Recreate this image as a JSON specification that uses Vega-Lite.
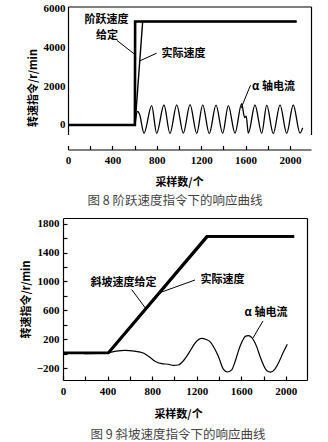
{
  "$schema": "https://vega.github.io/schema/vega-lite/v6.json",
  "background": "white",
  "padding": {"left": 20, "top": 1.5, "right": 5, "bottom": 0},
  "spacing": 9.5,
  "config": {
    "view": {"stroke": null},
    "axis": {
      "grid": false,
      "domainColor": "black",
      "domainWidth": 1.2,
      "tickColor": "black",
      "tickWidth": 1.2,
      "labelColor": "black",
      "titleColor": "black",
      "labelFont": "Liberation Serif",
      "labelFontSize": 11,
      "labelFontWeight": "bold",
      "titleFont": "Noto Sans CJK SC",
      "titleFontSize": 11,
      "titleFontWeight": "bold",
      "labelFlush": false,
      "labelOverlap": false,
      "format": "d"
    },
    "text": {"font": "Noto Sans CJK SC", "fontWeight": "bold", "fontSize": 11, "color": "black"}
  },
  "datasets": {
    "top_cmd": [{"s": 0, "v": 0}, {"s": 603, "v": 0}, {"s": 605, "v": 5330}, {"s": 2060, "v": 5330}],
    "top_act": [{"s": 0, "v": 0}, {"s": 604, "v": 0}, {"s": 673, "v": 5330}, {"s": 2060, "v": 5330}],
    "top_cur": [
      {"s": 0, "v": 0}, {"s": 604, "v": 0}, {"s": 612, "v": 400}, {"s": 628, "v": 700}, {"s": 645, "v": 550},
      {"s": 685, "v": -420}, {"s": 754, "v": 1000}, {"s": 799, "v": -430}, {"s": 865, "v": 1030},
      {"s": 919, "v": -440}, {"s": 980, "v": 1040}, {"s": 1039, "v": -420}, {"s": 1100, "v": 1050},
      {"s": 1160, "v": -430}, {"s": 1214, "v": 1040}, {"s": 1273, "v": -440}, {"s": 1334, "v": 1020},
      {"s": 1394, "v": -430}, {"s": 1445, "v": 1000}, {"s": 1505, "v": -420}, {"s": 1565, "v": 1100},
      {"s": 1592, "v": 380}, {"s": 1606, "v": 450}, {"s": 1625, "v": -420}, {"s": 1685, "v": 1030},
      {"s": 1746, "v": -430}, {"s": 1791, "v": 1020}, {"s": 1850, "v": -440}, {"s": 1911, "v": 1040},
      {"s": 1971, "v": -430}, {"s": 2030, "v": 1030}, {"s": 2091, "v": -420}, {"s": 2115, "v": -150}
    ],
    "top_notes": [
      {"s": 347, "v": 5380, "t": "阶跃速度"},
      {"s": 351, "v": 4560, "t": "给定"},
      {"s": 1041, "v": 3629, "t": "实际速度"},
      {"s": 1852, "v": 1930, "t": "α 轴电流"}
    ],
    "top_leaders": [
      {"s": 442, "v": 4350, "s2": 600, "v2": 3644},
      {"s": 799, "v": 3696, "s2": 647, "v2": 3300},
      {"s": 1645, "v": 2050, "s2": 1560, "v2": 870}
    ],
    "bot_cmd": [{"s": 0, "v": 10}, {"s": 405, "v": 10}, {"s": 1290, "v": 1625}, {"s": 2075, "v": 1625}],
    "bot_act": [{"s": 0, "v": 10}, {"s": 415, "v": 10}, {"s": 1300, "v": 1615}, {"s": 2075, "v": 1615}],
    "bot_cur": [
      {"s": 0, "v": 15}, {"s": 100, "v": 8}, {"s": 200, "v": 0}, {"s": 330, "v": 2}, {"s": 405, "v": 10},
      {"s": 480, "v": 35}, {"s": 556, "v": 45}, {"s": 640, "v": 35}, {"s": 721, "v": 8}, {"s": 780, "v": -50},
      {"s": 826, "v": -107}, {"s": 886, "v": -140}, {"s": 945, "v": -148}, {"s": 990, "v": -163},
      {"s": 1035, "v": -158}, {"s": 1075, "v": -110}, {"s": 1110, "v": -38}, {"s": 1150, "v": 60},
      {"s": 1185, "v": 146}, {"s": 1245, "v": 212}, {"s": 1285, "v": 195}, {"s": 1319, "v": 165},
      {"s": 1360, "v": 70}, {"s": 1394, "v": -38}, {"s": 1439, "v": -215}, {"s": 1475, "v": -255},
      {"s": 1514, "v": -225}, {"s": 1545, "v": -110}, {"s": 1573, "v": 30}, {"s": 1605, "v": 160},
      {"s": 1640, "v": 242}, {"s": 1663, "v": 248}, {"s": 1708, "v": 192}, {"s": 1740, "v": 90},
      {"s": 1768, "v": -38}, {"s": 1828, "v": -235}, {"s": 1862, "v": -258}, {"s": 1900, "v": -220},
      {"s": 1940, "v": -110}, {"s": 1975, "v": 10}, {"s": 2013, "v": 130}
    ],
    "bot_notes": [
      {"s": 543, "v": 978, "t": "斜坡速度给定"},
      {"s": 1432, "v": 1020, "t": "实际速度"},
      {"s": 1822, "v": 562, "t": "α 轴电流"}
    ],
    "bot_leaders": [
      {"s": 617, "v": 886, "s2": 740, "v2": 630},
      {"s": 1185, "v": 1020, "s2": 862, "v2": 840},
      {"s": 1795, "v": 452, "s2": 1705, "v2": 216}
    ]
  },
  "vconcat": [
    {
      "width": 248,
      "height": 128,
      "title": {"text": "图 8 阶跃速度指令下的响应曲线", "orient": "bottom", "anchor": "middle", "frame": "group", "font": "Noto Sans CJK SC", "fontSize": 12.5, "fontWeight": "normal", "color": "#444", "offset": 7.5, "dx": -12},
      "layer": [
        {
          "data": {"name": "top_cmd"},
          "mark": {"type": "line", "color": "black", "strokeWidth": 2.6},
          "encoding": {
            "x": {"field": "s", "type": "quantitative", "scale": {"domain": [0, 2190], "nice": false, "zero": false, "rangeMin": 5},
              "axis": {"orient": "bottom", "offset": 15, "values": [0, 200, 400, 600, 800, 1000, 1200, 1400, 1600, 1800, 2000], "labelExpr": "datum.value % 400 == 0 ? datum.label : ''", "tickSize": -4, "labelPadding": 8.5, "title": "采样数/个", "titlePadding": 11, "titleX": 116}},
            "y": {"field": "v", "type": "quantitative", "scale": {"domain": [-490, 6100], "nice": false, "zero": false},
              "axis": {"orient": "left", "offset": -5, "values": [0, 2000, 4000, 6000], "ticks": false, "labelPadding": 3, "title": "转速指令/r/min", "titlePadding": 5, "titleY": 81}}
          }
        },
        {
          "data": {"name": "top_act"},
          "mark": {"type": "line", "color": "black", "strokeWidth": 1.4},
          "encoding": {
            "x": {"field": "s", "type": "quantitative", "axis": null},
            "y": {"field": "v", "type": "quantitative", "axis": null}
          }
        },
        {
          "data": {"name": "top_cur"},
          "mark": {"type": "line", "color": "black", "strokeWidth": 1.3, "interpolate": "monotone"},
          "encoding": {
            "x": {"field": "s", "type": "quantitative", "axis": {"orient": "top", "labels": false, "ticks": false, "title": null}},
            "y": {"field": "v", "type": "quantitative", "axis": {"orient": "right", "labels": false, "ticks": false, "title": null}}
          }
        },
        {
          "data": {"name": "top_leaders"},
          "mark": {"type": "rule", "color": "black", "strokeWidth": 1},
          "encoding": {
            "x": {"field": "s", "type": "quantitative", "axis": null},
            "y": {"field": "v", "type": "quantitative", "axis": null},
            "x2": {"field": "s2"},
            "y2": {"field": "v2"}
          }
        },
        {
          "data": {"name": "top_notes"},
          "mark": {"type": "text"},
          "encoding": {
            "x": {"field": "s", "type": "quantitative", "axis": null},
            "y": {"field": "v", "type": "quantitative", "axis": null},
            "text": {"field": "t"}
          }
        }
      ]
    },
    {
      "width": 244,
      "height": 162,
      "title": {"text": "图 9 斜坡速度指令下的响应曲线", "orient": "bottom", "anchor": "middle", "frame": "group", "font": "Noto Sans CJK SC", "fontSize": 12.5, "fontWeight": "normal", "color": "#444", "offset": 9, "dx": -7},
      "layer": [
        {
          "data": {"name": "bot_cmd"},
          "mark": {"type": "line", "color": "black", "strokeWidth": 2.6},
          "encoding": {
            "x": {"field": "s", "type": "quantitative", "scale": {"domain": [0, 2190], "nice": false, "zero": false},
              "axis": {"orient": "bottom", "values": [0, 200, 400, 600, 800, 1000, 1200, 1400, 1600, 1800, 2000], "labelExpr": "datum.value % 400 == 0 ? datum.label : ''", "tickSize": -4, "labelPadding": 9.5, "title": "采样数/个", "titlePadding": 12, "titleX": 115}},
            "y": {"field": "v", "type": "quantitative", "scale": {"domain": [-366, 1879], "nice": false, "zero": false},
              "axis": {"orient": "left", "values": [-200, 0, 200, 400, 600, 800, 1000, 1200, 1400, 1600, 1800], "labelExpr": "(datum.value + 200) % 400 == 0 ? datum.label : ''", "tickSize": -4, "labelPadding": 8, "title": "转速指令/r/min", "titlePadding": 5}}
          }
        },
        {
          "data": {"name": "bot_act"},
          "mark": {"type": "line", "color": "black", "strokeWidth": 1.6},
          "encoding": {
            "x": {"field": "s", "type": "quantitative", "axis": null},
            "y": {"field": "v", "type": "quantitative", "axis": null}
          }
        },
        {
          "data": {"name": "bot_cur"},
          "mark": {"type": "line", "color": "black", "strokeWidth": 1.2, "interpolate": "monotone"},
          "encoding": {
            "x": {"field": "s", "type": "quantitative", "axis": {"orient": "top", "labels": false, "ticks": false, "title": null}},
            "y": {"field": "v", "type": "quantitative", "axis": {"orient": "right", "labels": false, "ticks": false, "title": null}}
          }
        },
        {
          "data": {"name": "bot_leaders"},
          "mark": {"type": "rule", "color": "black", "strokeWidth": 1},
          "encoding": {
            "x": {"field": "s", "type": "quantitative", "axis": null},
            "y": {"field": "v", "type": "quantitative", "axis": null},
            "x2": {"field": "s2"},
            "y2": {"field": "v2"}
          }
        },
        {
          "data": {"name": "bot_notes"},
          "mark": {"type": "text"},
          "encoding": {
            "x": {"field": "s", "type": "quantitative", "axis": null},
            "y": {"field": "v", "type": "quantitative", "axis": null},
            "text": {"field": "t"}
          }
        }
      ]
    }
  ]
}
